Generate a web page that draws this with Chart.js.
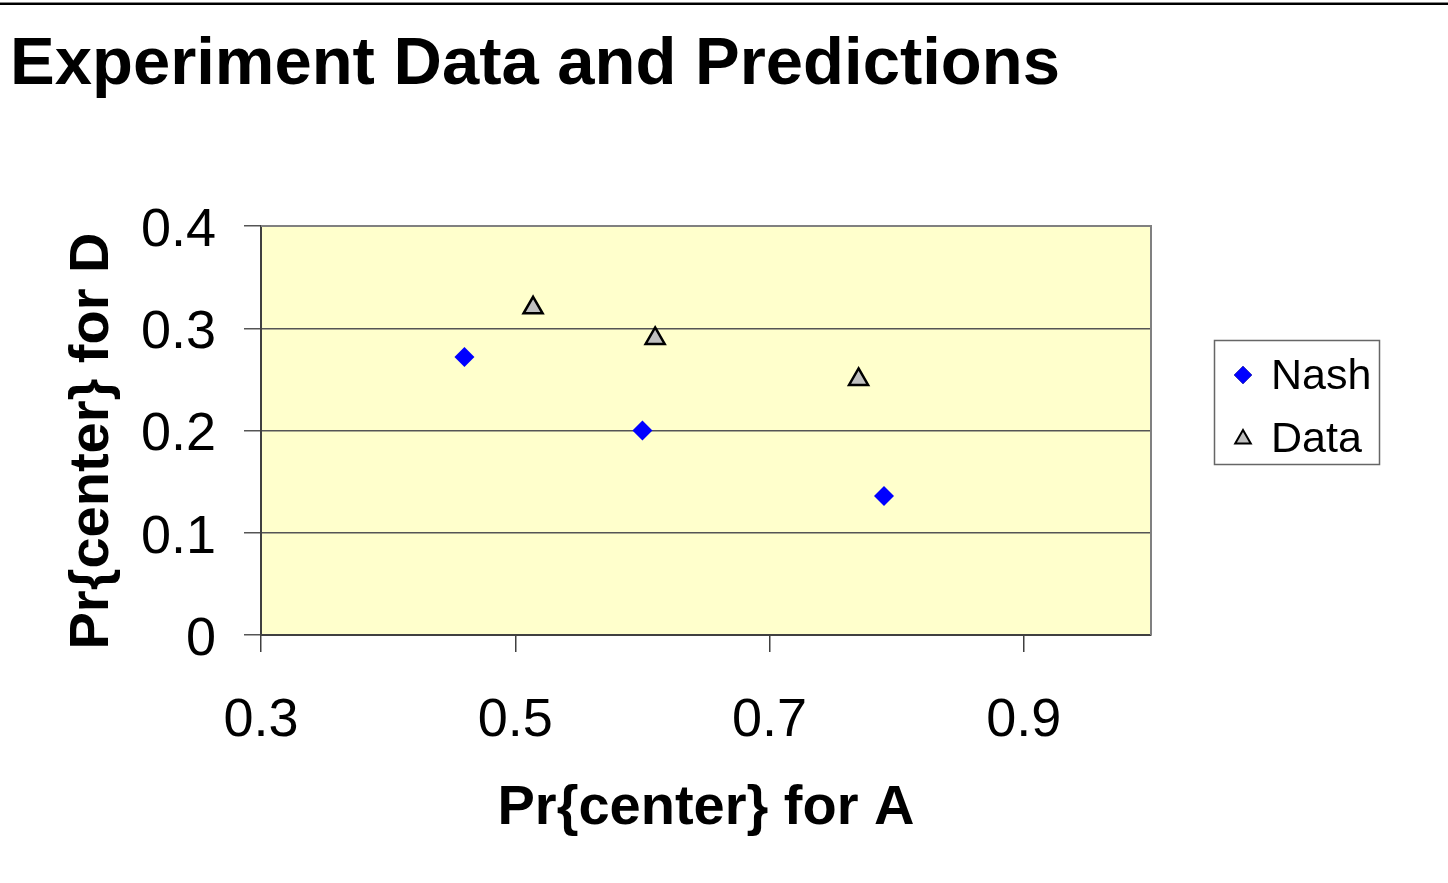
<!DOCTYPE html>
<html>
<head>
<meta charset="utf-8">
<title>Experiment Data and Predictions</title>
<script src="https://cdn.jsdelivr.net/npm/chart.js@4.4.1/dist/chart.umd.min.js"></script>
<style>
  html, body { margin: 0; padding: 0; background: #fff; }
  body { width: 1448px; height: 883px; position: relative; overflow: hidden; font-family: "Liberation Sans", Arial, sans-serif; }
  .rule { position: absolute; left: 0; top: 2px; width: 1448px; height: 1px; background: #888; }
  .rule2 { position: absolute; left: 0; top: 3px; width: 1448px; height: 2px; background: #000; }
  h1 { position: absolute; left: 10px; top: 27px; margin: 0; font-size: 67px; font-weight: bold; line-height: 1; color: #000; }
  #wrap { position: absolute; left: 0; top: 0; width: 1448px; height: 883px; }
</style>
</head>
<body>
<div class="rule"></div>
<div class="rule2"></div>
<h1 id="title">Experiment Data and Predictions</h1>
<div id="wrap"><canvas id="scatterChart" width="1448" height="883"></canvas></div>
<script>
// x = Pr{center} for A, y = Pr{center} for D
const nashX = [0.46, 0.60, 0.79];
const nashY = [0.272, 0.20, 0.136];
const dataX = [0.514, 0.61, 0.77];
const dataY = [0.32, 0.29, 0.25];
const xTicks = [0.3, 0.5, 0.7, 0.9];
const yTicks = [0, 0.1, 0.2, 0.3, 0.4];

const FONT = '"Liberation Sans", Arial, sans-serif';

function toPoints(xs, ys) {
    return xs.map((x, i) => ({ x: x, y: ys[i] }));
}

// plot area fill, gray frame on the top/right, y title and the legend box
const plotFrame = {
    id: "plotFrame",
    beforeDraw(chart) {
        const { ctx, chartArea: a } = chart;
        ctx.save();
        ctx.fillStyle = "#FFFFCC";
        ctx.fillRect(a.left, a.top, a.right - a.left, a.bottom - a.top);
        ctx.restore();
    },
    afterDraw(chart) {
        const { ctx, chartArea: a } = chart;
        ctx.save();
        ctx.strokeStyle = "#808080";
        ctx.lineWidth = 2;
        ctx.beginPath();
        ctx.moveTo(a.left, a.top);
        ctx.lineTo(a.right, a.top);
        ctx.lineTo(a.right, a.bottom);
        ctx.stroke();

        // y axis title, rotated
        ctx.save();
        ctx.translate(108, 441);
        ctx.rotate(-Math.PI / 2);
        ctx.font = "bold 56px " + FONT;
        ctx.fillStyle = "#000";
        ctx.textAlign = "center";
        ctx.textBaseline = "alphabetic";
        ctx.fillText("Pr{center} for D", 0, 0);
        ctx.restore();

        // legend
        ctx.strokeStyle = "#666";
        ctx.lineWidth = 1.5;
        ctx.strokeRect(1214.5, 340.5, 165, 124);
        ctx.font = "43px " + FONT;
        ctx.fillStyle = "#000";
        ctx.textBaseline = "alphabetic";
        ctx.fillText("Nash", 1271, 389);
        ctx.fillText("Data", 1271, 452);
        Chart.helpers.drawPoint(ctx, {
            pointStyle: "rectRot", radius: 9, borderWidth: 0
        }, 1243, 375);
        ctx.fillStyle = "#0000FF";
        ctx.fill();
        ctx.fillStyle = "#C0C0C0";
        ctx.strokeStyle = "#000";
        ctx.lineWidth = 2;
        Chart.helpers.drawPoint(ctx, {
            pointStyle: "triangle", radius: 9, borderWidth: 2
        }, 1243, 439);
        ctx.restore();
    }
};

const ctx = document.getElementById("scatterChart").getContext("2d");
new Chart(ctx, {
    type: "scatter",
    data: {
        datasets: [
            {
                label: "Nash",
                data: toPoints(nashX, nashY),
                pointStyle: "rectRot",
                pointRadius: 10,
                pointHoverRadius: 10,
                backgroundColor: "#0000FF",
                borderColor: "#0000FF",
                borderWidth: 0,
            },
            {
                label: "Data",
                data: toPoints(dataX, dataY),
                pointStyle: "triangle",
                pointRadius: 11,
                pointHoverRadius: 11,
                backgroundColor: "#C0C0C0",
                borderColor: "#000",
                borderWidth: 2.5,
            },
        ],
    },
    options: {
        responsive: false,
        animation: false,
        devicePixelRatio: 1,
        layout: { padding: { top: 226, right: 297, left: 0, bottom: 0 } },
        plugins: {
            legend: { display: false },
            tooltip: { enabled: false },
        },
        scales: {
            x: {
                type: "linear",
                min: 0.3,
                max: 1.0,
                afterFit(scale) { scale.height = 248; },
                afterBuildTicks(scale) { scale.ticks = xTicks.map(v => ({ value: v })); },
                ticks: {
                    color: "#000",
                    font: { family: FONT, size: 54 },
                    padding: 37,
                    maxRotation: 0,
                    callback: v => v.toFixed(1),
                },
                grid: {
                    drawOnChartArea: false,
                    drawTicks: true,
                    tickLength: 17,
                    color: "#404040",
                    lineWidth: 1.5,
                },
                border: { color: "#404040", width: 2 },
                title: {
                    display: true,
                    text: "Pr{center} for A",
                    color: "#000",
                    font: { family: FONT, size: 56, weight: "bold" },
                    padding: { top: 0, bottom: 41 },
                },
            },
            y: {
                type: "linear",
                min: 0,
                max: 0.4,
                afterFit(scale) { scale.width = 261; },
                afterBuildTicks(scale) { scale.ticks = yTicks.map(v => ({ value: v })); },
                ticks: {
                    color: "#000",
                    font: { family: FONT, size: 54 },
                    padding: 28,
                    labelOffset: 5,
                    callback: v => (v === 0 ? "0" : v.toFixed(1)),
                },
                grid: {
                    drawOnChartArea: true,
                    drawTicks: true,
                    tickLength: 17,
                    color: "#555",
                    lineWidth: 1.5,
                },
                border: { color: "#404040", width: 2 },
                title: { display: false },
            },
        },
    },
    plugins: [plotFrame],
});
</script>
</body>
</html>
